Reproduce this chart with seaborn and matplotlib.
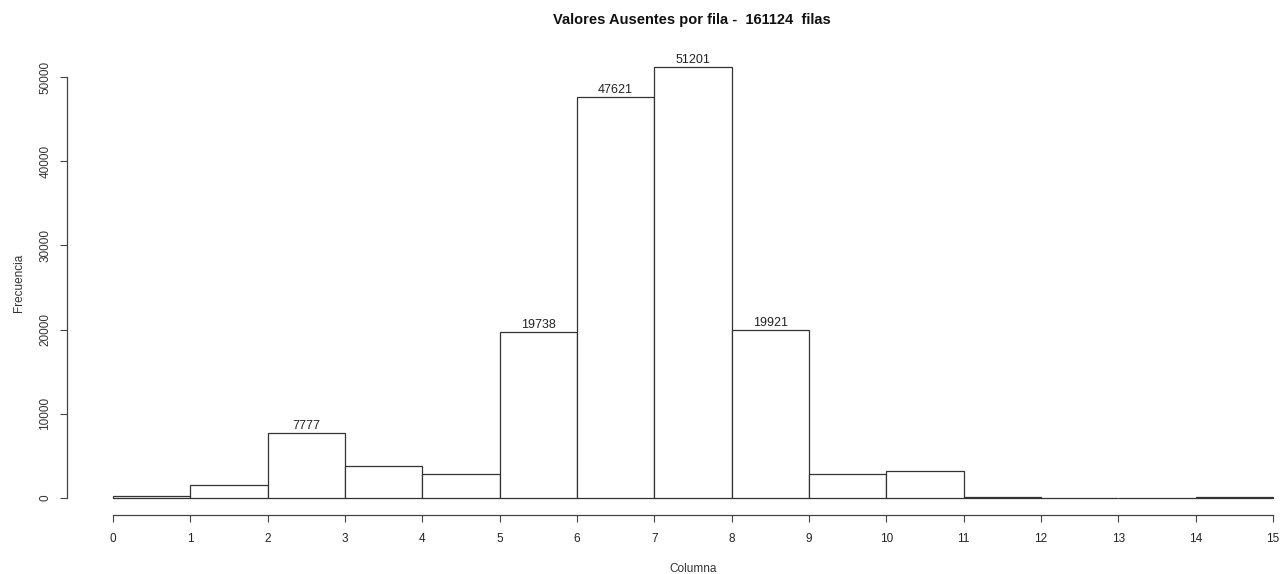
import numpy as np
import pandas as pd
import matplotlib
matplotlib.use("Agg")
import matplotlib.pyplot as plt
import seaborn as sns

# Missing values per row: bin edges and row counts per bin
bin_edges = list(range(0, 16))
counts = [280, 1600, 7777, 3850, 2900, 19738, 47621, 51201, 19921,
          2900, 3200, 60, 8, 8, 60]
total_rows = 161124
y_ticks = [0, 10000, 20000, 30000, 40000, 50000]
x_ticks = list(range(0, 16))

sns.set_style("ticks")
plt.rcParams["font.family"] = ["Liberation Sans", "DejaVu Sans"]

df = pd.DataFrame({"faltantes": [e + 0.5 for e in bin_edges[:-1]],
                   "n": counts})

W, H = 1281, 574
fig = plt.figure(figsize=(W / 100, H / 100), dpi=100)

# plot region in pixels (R-style 4% padding around data range)
x0_px, x15_px = 113, 1273
y0_px, y50k_px = 498, 77
ppx = (x15_px - x0_px) / 15.0
ppy = (y0_px - y50k_px) / 50000.0
xlim = (-0.6, 15.6)
ylim = (-2048, 53249)
left = x0_px + xlim[0] * ppx
right = x0_px + xlim[1] * ppx
top = y0_px - ylim[1] * ppy
bottom = y0_px - ylim[0] * ppy
ax = fig.add_axes([left / W, 1 - bottom / H, (right - left) / W, (bottom - top) / H])

sns.histplot(data=df, x="faltantes", weights="n", bins=bin_edges, ax=ax,
             color="white", edgecolor="#333333", linewidth=0.9, alpha=1.0)

ax.set_xlim(*xlim)
ax.set_ylim(*ylim)

for p, c in zip(ax.patches, counts):
    if c > 5000:
        ax.text(p.get_x() + p.get_width() / 2, c + 100, f"{c}",
                ha="center", va="bottom", fontsize=9, color="#222222")

sns.despine(ax=ax, top=True, right=True)
ax.spines["left"].set_bounds(0, 50000)
ax.spines["bottom"].set_bounds(0, 15)
for s in ("left", "bottom"):
    ax.spines[s].set_color("#444444")
    ax.spines[s].set_linewidth(0.9)

ax.set_yticks(y_ticks)
ax.set_yticklabels([str(v) for v in y_ticks], rotation=90, va="center",
                   fontsize=8.5, color="#333333")
ax.set_xticks(x_ticks)
ax.set_xticklabels([str(v) for v in x_ticks], fontsize=8.5, color="#222222")
ax.tick_params(axis="both", direction="out", length=5, width=0.8,
               color="#444444", pad=6)
ax.tick_params(axis="x", pad=8)

ax.set_xlabel("Columna", fontsize=8.5, color="#333333", labelpad=13)
ax.set_ylabel("Frecuencia", fontsize=8.5, color="#333333", labelpad=10)
ax.grid(False)

fig.text(692 / W, 1 - 20 / H,
         f"Valores Ausentes por fila -  {total_rows}  filas",
         ha="center", va="center", fontsize=10.5, fontweight="bold",
         color="#111111")

fig.savefig("out.png", dpi=100, facecolor="white")
